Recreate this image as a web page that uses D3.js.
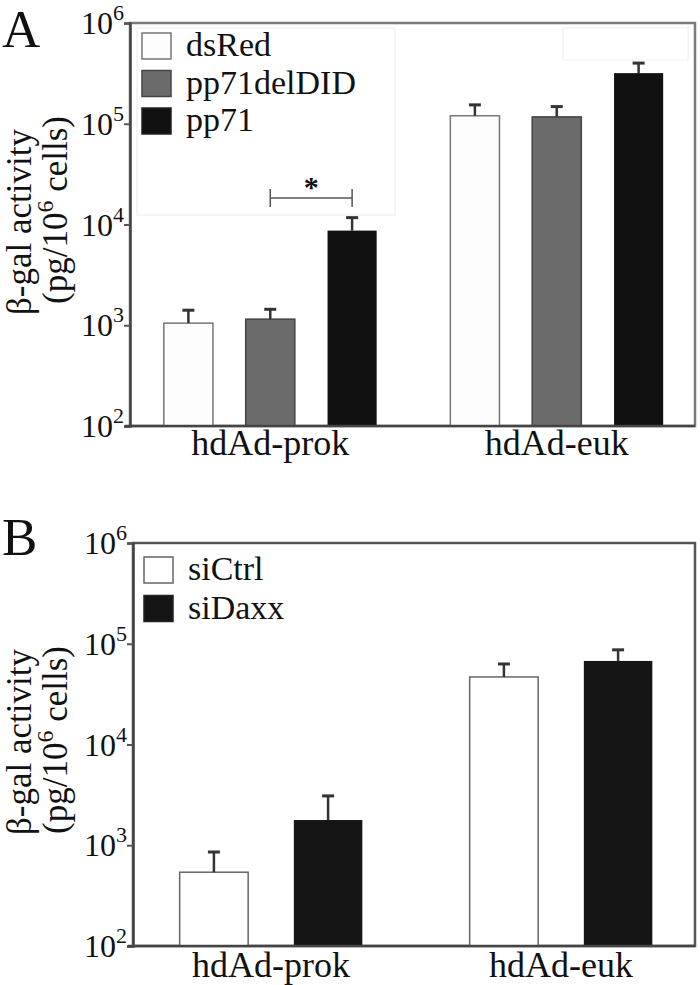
<!DOCTYPE html>
<html>
<head>
<meta charset="utf-8">
<script src="https://cdn.jsdelivr.net/npm/d3@7"></script>
<style>
  body { margin: 0; background: #fff; }
  text { font-family: "Liberation Serif", "Times New Roman", serif; fill: #111; }
</style>
</head>
<body>
<svg id="chart" width="700" height="985"></svg>
<script>
// categories and series
const groups = ['hdAd-prok', 'hdAd-euk']
const seriesA = ['dsRed', 'pp71delDID', 'pp71']
const seriesB = ['siCtrl', 'siDaxx']
const yTickExps = [2, 3, 4, 5, 6]

// panel A values (mean, +SD), one entry per group
const dsRed = [1050, 120000]
const dsRedErr = [360, 34000]
const pp71delDID = [1150, 117000]
const pp71delDIDErr = [290, 31000]
const pp71 = [8700, 318000]
const pp71Err = [3000, 82000]

// panel B values
const siCtrl = [540, 46800]
const siCtrlErr = [317, 16200]
const siDaxx = [1780, 67500]
const siDaxxErr = [1310, 19500]

const svg = d3.select('#chart')

/**
 * Builds the flat list of bars for one panel.
 */
function makeBars (series, means, errs) {
  const bars = []
  groups.forEach((g, gi) => {
    series.forEach((s, si) => {
      bars.push({ group: g, series: s, value: means[si][gi], err: errs[si][gi] })
    })
  })
  return bars
}

/**
 * Draws the frame, the log axis with 10^n labels and the y title.
 */
function drawAxes (g, cfg, yScale) {
  g.append('rect')
    .attr('x', cfg.left).attr('y', cfg.top)
    .attr('width', cfg.right - cfg.left).attr('height', cfg.bottom - cfg.top)
    .attr('fill', 'none')
    .attr('stroke', cfg.frameColor)
    .attr('stroke-width', 2.5)

  const yAxis = g.append('g')
    .attr('transform', 'translate(' + cfg.left + ',0)')
    .call(d3.axisLeft(yScale).tickValues(yTickExps.map(e => Math.pow(10, e))).tickSize(6).tickFormat(''))
  yAxis.select('.domain').attr('stroke', '#444').attr('stroke-width', 2.5)
  yAxis.selectAll('.tick line').attr('stroke', '#555').attr('stroke-width', 2)

  const labels = g.append('g')
  yTickExps.forEach(e => {
    const t = labels.append('text')
      .attr('x', cfg.left - 6)
      .attr('y', yScale(Math.pow(10, e)) + 11)
      .attr('text-anchor', 'end')
      .attr('font-size', 32)
    t.append('tspan').text('10')
    t.append('tspan').text(e).attr('font-size', 22).attr('dy', -14)
  })

  g.append('text')
    .attr('transform', 'translate(31,' + cfg.yLabel1 + ') rotate(-90)')
    .attr('text-anchor', 'middle')
    .attr('font-size', 35)
    .text('β-gal activity')

  const t2 = g.append('text')
    .attr('transform', 'translate(67,' + cfg.yLabel2 + ') rotate(-90)')
    .attr('text-anchor', 'middle')
    .attr('font-size', 35)
  t2.append('tspan').text('(pg/10')
  t2.append('tspan').text('6').attr('font-size', 24).attr('dy', -14)
  t2.append('tspan').text(' cells)').attr('dy', 14)

  g.append('text')
    .attr('x', 2).attr('y', cfg.letterY)
    .attr('font-size', 53)
    .text(cfg.letter)
}

/**
 * Draws the bars with their upper error whiskers and the group labels.
 */
function drawBars (g, cfg, bars, x0, x1, yScale) {
  const bar = g.selectAll('.bar')
    .data(bars)
    .join('g')
    .attr('class', 'bar')

  bar.append('rect')
    .attr('x', d => x0(d.group) + x1(d.series))
    .attr('y', d => yScale(d.value))
    .attr('width', x1.bandwidth())
    .attr('height', d => cfg.bottom - yScale(d.value))
    .attr('fill', d => cfg.colors[d.series])
    .attr('stroke', d => cfg.strokes[d.series])
    .attr('stroke-width', 1.5)

  const cx = d => x0(d.group) + x1(d.series) + x1.bandwidth() / 2
  bar.append('line')
    .attr('x1', cx).attr('x2', cx)
    .attr('y1', d => yScale(d.value))
    .attr('y2', d => yScale(d.value + d.err))
    .attr('stroke', '#333').attr('stroke-width', 2.5)
  bar.append('line')
    .attr('x1', d => cx(d) - 6).attr('x2', d => cx(d) + 6)
    .attr('y1', d => yScale(d.value + d.err))
    .attr('y2', d => yScale(d.value + d.err))
    .attr('stroke', '#333').attr('stroke-width', 3)

  // bottom axis line drawn over the bars
  g.append('line')
    .attr('x1', cfg.left - 5).attr('x2', cfg.right)
    .attr('y1', cfg.bottom).attr('y2', cfg.bottom)
    .attr('stroke', '#444').attr('stroke-width', 2.5)

  g.selectAll('.group-label')
    .data(groups)
    .join('text')
    .attr('class', 'group-label')
    .attr('x', d => x0(d) + x0.bandwidth() / 2)
    .attr('y', cfg.bottom + cfg.labelOffset)
    .attr('text-anchor', 'middle')
    .attr('font-size', 36)
    .text(d => d)
}

/**
 * Draws the legend swatches and names.
 */
function drawLegend (g, cfg, series) {
  series.forEach((s, i) => {
    g.append('rect')
      .attr('x', cfg.legendX).attr('y', cfg.legendY + i * cfg.legendStep)
      .attr('width', 29).attr('height', 26)
      .attr('fill', cfg.colors[s])
      .attr('stroke', cfg.strokes[s] === 'none' ? '#222' : cfg.strokes[s])
      .attr('stroke-width', 1.5)
    g.append('text')
      .attr('x', cfg.legendX + 44)
      .attr('y', cfg.legendY + i * cfg.legendStep + 23)
      .attr('font-size', 34)
      .text(s)
  })
}

function drawPanel (cfg, series, means, errs) {
  const g = svg.append('g')
  const yScale = d3.scaleLog().domain([1e2, 1e6]).range([cfg.bottom, cfg.top])
  const x0 = d3.scaleBand().domain(groups).range(cfg.xRange)
  const x1 = d3.scaleBand().domain(series).range([0, x0.bandwidth()])
    .paddingInner(0.4).paddingOuter(cfg.outerPad)

  if (cfg.legendBox) {
    g.append('rect')
      .attr('x', 137).attr('y', 28).attr('width', 258).attr('height', 187)
      .attr('fill', 'none').attr('stroke', '#ececec')
    g.append('rect')
      .attr('x', 563).attr('y', 28).attr('width', 125).attr('height', 32)
      .attr('fill', 'none').attr('stroke', '#f0f0f0')
  }

  drawAxes(g, cfg, yScale)
  drawBars(g, cfg, makeBars(series, means, errs), x0, x1, yScale)
  drawLegend(g, cfg, series)
  return { g, x0, x1, yScale }
}

const panelA = drawPanel({
  letter: 'A', letterY: 47,
  left: 130, right: 695, top: 23, bottom: 426,
  xRange: [127, 700], outerPad: 0.45,
  frameColor: '#7a7a7a',
  yLabel1: 222, yLabel2: 210,
  labelOffset: 29,
  legendBox: true,
  legendX: 142, legendY: 33, legendStep: 37.5,
  colors: { dsRed: '#fdfdfd', pp71delDID: '#6b6b6b', pp71: '#111' },
  strokes: { dsRed: '#777', pp71delDID: '#444', pp71: 'none' }
}, seriesA, [dsRed, pp71delDID, pp71], [dsRedErr, pp71delDIDErr, pp71Err])

// significance bracket between pp71delDID and pp71 in hdAd-prok
const bx1 = panelA.x0('hdAd-prok') + panelA.x1('pp71delDID') + panelA.x1.bandwidth() / 2
const bx2 = panelA.x0('hdAd-prok') + panelA.x1('pp71') + panelA.x1.bandwidth() / 2
const by = 198
panelA.g.append('path')
  .attr('d', 'M' + bx1 + ',' + (by - 9) + 'V' + (by + 9) + 'M' + bx1 + ',' + by + 'H' + bx2 + 'M' + bx2 + ',' + (by - 9) + 'V' + (by + 9))
  .attr('fill', 'none').attr('stroke', '#555').attr('stroke-width', 1.5)
panelA.g.append('text')
  .attr('x', (bx1 + bx2) / 2).attr('y', by - 1)
  .attr('text-anchor', 'middle')
  .attr('font-size', 30).attr('font-weight', 'bold')
  .text('*')

drawPanel({
  letter: 'B', letterY: 555,
  left: 133, right: 695, top: 543, bottom: 946,
  xRange: [126, 706], outerPad: 0.47,
  frameColor: '#555',
  yLabel1: 742, yLabel2: 740,
  labelOffset: 31,
  legendBox: false,
  legendX: 144, legendY: 557, legendStep: 38.5,
  colors: { siCtrl: '#fff', siDaxx: '#151515' },
  strokes: { siCtrl: '#666', siDaxx: 'none' }
}, seriesB, [siCtrl, siDaxx], [siCtrlErr, siDaxxErr])
</script>
</body>
</html>
